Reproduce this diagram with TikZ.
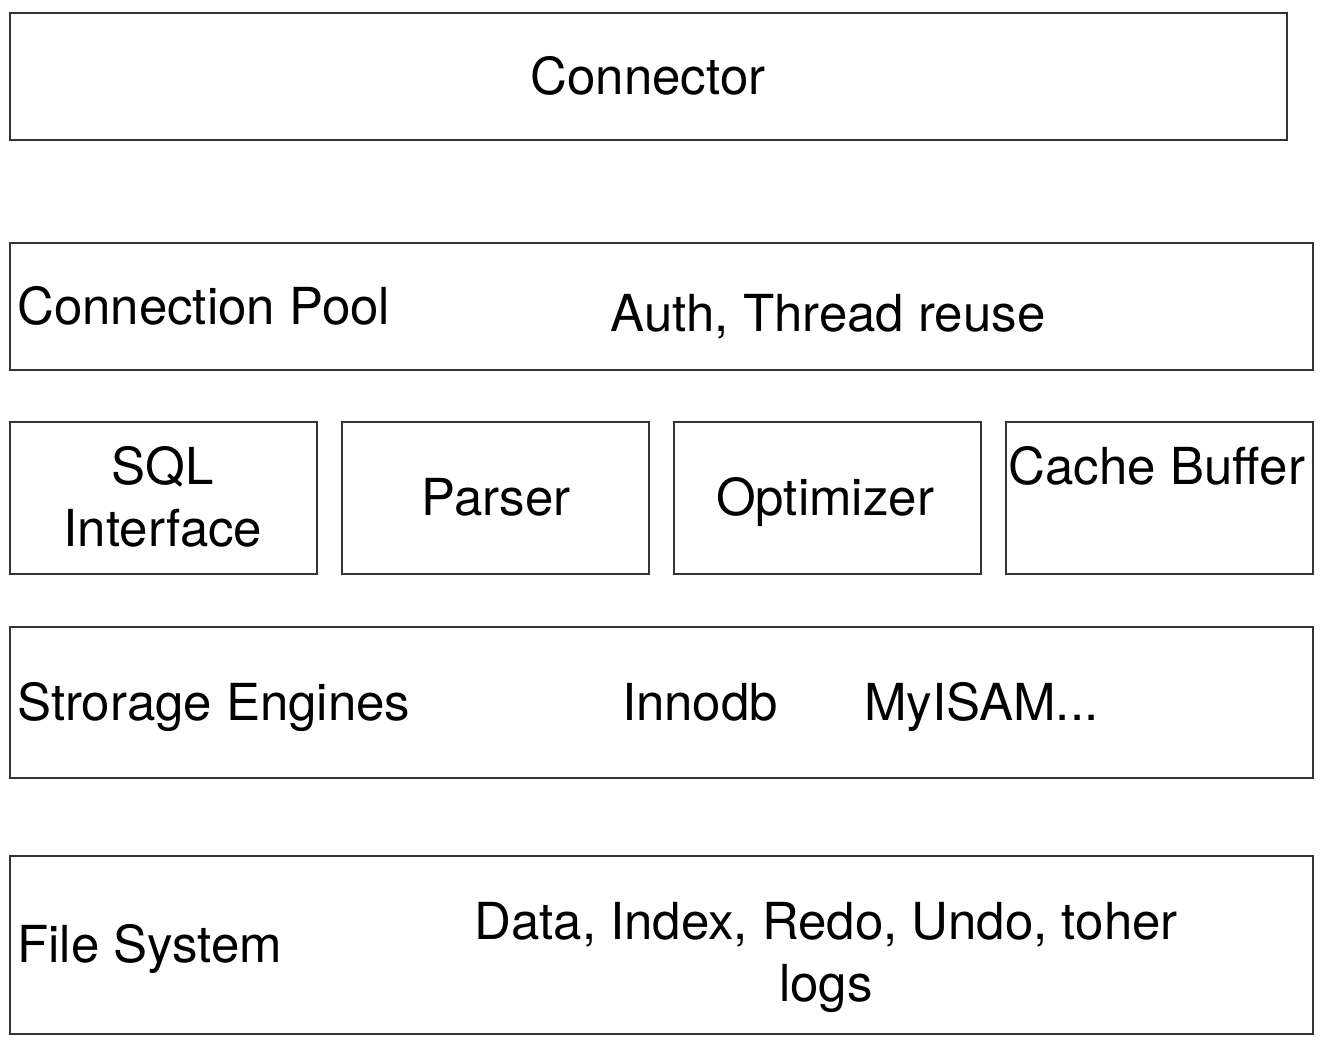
\documentclass[tikz,border=0pt]{standalone}
\usepackage{fontspec}
\setmainfont{TeX Gyre Heros}
\newcommand{\lblfont}{\fontsize{51}{62}\selectfont}
\begin{document}
\begin{tikzpicture}[x=1pt,y=-1pt,
  box/.style={draw=black!80,line width=1.6pt},
  lbl/.style={inner sep=0pt,font=\lblfont,text height=36.5pt,text depth=0pt},
  twolines/.style={inner sep=0pt,font=\lblfont,align=center}]
\useasboundingbox (0,0) rectangle (1322,1048);
% layers
\draw[box] (10,13) rectangle (1287,140);
\draw[box] (10,243) rectangle (1313,370);
\foreach \x in {10,342,674,1006}{
  \draw[box] (\x,422) rectangle (\x+307,574);
}
\draw[box] (10,627) rectangle (1313,778);
\draw[box] (10,856) rectangle (1313,1034);
% labels
\node[lbl] (connector) at (648,76) {Connector};
\node[lbl,anchor=west] (pool) at (17,306) {Connection Pool};
\node[lbl] (auth) at (828,313) {Auth, Thread reuse};
\node[twolines] (sql) at (163,497) {SQL\\Interface};
\node[lbl] (parser) at (496,497) {Parser};
\node[lbl] (optimizer) at (825,497) {Optimizer};
\node[lbl] (cache) at (1157,466) {Cache Buffer};
\node[lbl,anchor=west] (storage) at (17,702) {Strorage Engines};
\node[lbl] (innodb) at (700,702) {Innodb};
\node[lbl,anchor=west] (myisam) at (864,702) {MyISAM...};
\node[lbl,anchor=west] (fs) at (17,944) {File System};
\node[twolines] (data) at (826,957) {Data, Index, Redo, Undo, toher\\logs};
\end{tikzpicture}
\end{document}
